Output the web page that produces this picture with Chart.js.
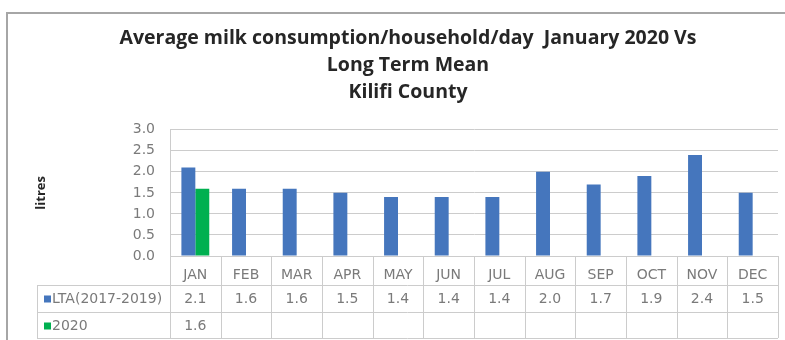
<!DOCTYPE html>
<html>
<head>
<meta charset="utf-8">
<title>Milk consumption - Kilifi</title>
<script src="https://cdn.jsdelivr.net/npm/chart.js@4/dist/chart.umd.min.js"></script>
<style>
  html, body { margin: 0; padding: 0; background: #fff; overflow: hidden; }
  #wrap { width: 785px; height: 340px; }
</style>
</head>
<body>
<div id="wrap"><canvas id="milkChart" width="785" height="340"></canvas></div>
<script>
// monthly averages, litres per household per day
const months = ['JAN', 'FEB', 'MAR', 'APR', 'MAY', 'JUN', 'JUL', 'AUG', 'SEP', 'OCT', 'NOV', 'DEC'];
const ltaValues = [2.1, 1.6, 1.6, 1.5, 1.4, 1.4, 1.4, 2.0, 1.7, 1.9, 2.4, 1.5];
const values2020 = [1.6, null, null, null, null, null, null, null, null, null, null, null];
const seriesNames = ['LTA(2017-2019)', '2020'];
const seriesColors = ['#4576bd', '#00b050'];

const axisFont = { family: 'DejaVu Sans', size: 14 };
const axisColor = '#7a7a7a';
const lineColor = '#cccccc';

// outer frame of the chart box
const framePlugin = {
    id: 'frame',
    beforeDraw(chart) {
        const ctx = chart.ctx;
        ctx.save();
        ctx.fillStyle = '#fff';
        ctx.fillRect(0, 0, chart.width, chart.height);
        ctx.strokeStyle = '#a6a6a6';
        ctx.lineWidth = 2;
        ctx.beginPath();
        ctx.moveTo(7, chart.height);
        ctx.lineTo(7, 13);
        ctx.lineTo(chart.width, 13);
        ctx.stroke();
        ctx.restore();
    }
};

// data table under the x axis, one row per series
const dataTablePlugin = {
    id: 'dataTable',
    afterDraw(chart) {
        const ctx = chart.ctx;
        const x = chart.scales.x;
        const area = chart.chartArea;
        const step = x.getPixelForValue(1) - x.getPixelForValue(0);
        const headLeft = 37;
        const rowH = 27;
        const top = area.bottom;
        const r1 = x.bottom;
        const bottom = r1 + rowH * 2 - 1;

        ctx.save();
        ctx.strokeStyle = lineColor;
        ctx.lineWidth = 1;
        ctx.beginPath();
        for (let i = 0; i <= months.length; i++) {
            const px = Math.round(x.getPixelForValue(i) - step / 2) + 0.5;
            ctx.moveTo(px, top);
            ctx.lineTo(px, bottom);
        }
        [r1, r1 + rowH, bottom].forEach(y => {
            ctx.moveTo(headLeft, Math.round(y) + 0.5);
            ctx.lineTo(area.right, Math.round(y) + 0.5);
        });
        ctx.moveTo(headLeft + 0.5, r1);
        ctx.lineTo(headLeft + 0.5, bottom);
        ctx.stroke();

        ctx.font = axisFont.size + 'px ' + axisFont.family;
        ctx.textBaseline = 'middle';
        chart.data.datasets.forEach((ds, row) => {
            const cy = r1 + rowH * row + rowH / 2 + 1;
            ctx.fillStyle = ds.backgroundColor;
            ctx.fillRect(headLeft + 7, cy - 4, 7, 7);
            ctx.fillStyle = axisColor;
            ctx.textAlign = 'left';
            ctx.fillText(ds.label, headLeft + 15, cy);
            ctx.textAlign = 'center';
            ds.data.forEach((v, i) => {
                if (v === null) return;
                ctx.fillText(v.toFixed(1), x.getPixelForValue(i), cy);
            });
        });
        ctx.restore();
    }
};

const ctx = document.getElementById('milkChart').getContext('2d');
new Chart(ctx, {
    type: 'bar',
    data: {
        labels: months,
        datasets: [
            { label: seriesNames[0], data: ltaValues, backgroundColor: seriesColors[0] },
            { label: seriesNames[1], data: values2020, backgroundColor: seriesColors[1] }
        ]
    },
    options: {
        responsive: false,
        animation: false,
        devicePixelRatio: 1,
        categoryPercentage: 0.55,
        barPercentage: 1.0,
        layout: { padding: { left: 38, right: 7, top: 13, bottom: 55 } },
        plugins: {
            legend: { display: false },
            tooltip: { enabled: false },
            title: {
                display: true,
                text: ['Average milk consumption/household/day  January 2020 Vs', 'Long Term Mean', 'Kilifi County'],
                color: '#262626',
                font: { family: 'Open Sans', size: 19.5, weight: 'bold', lineHeight: 1.38 },
                padding: { top: 12, bottom: 24 }
            }
        },
        scales: {
            x: {
                grid: { display: false },
                border: { display: false },
                ticks: { color: axisColor, font: axisFont, padding: 3 },
                afterFit(scale) { scale.height = 29; }
            },
            y: {
                min: 0,
                max: 3,
                ticks: {
                    stepSize: 0.5,
                    color: axisColor,
                    font: axisFont,
                    padding: 15,
                    callback: v => v.toFixed(1)
                },
                grid: { color: lineColor, drawTicks: false },
                border: { color: lineColor },
                title: {
                    display: true,
                    text: 'litres',
                    color: '#262626',
                    font: { family: 'Open Sans', size: 13, weight: 'bold' },
                    padding: { top: -5, bottom: 0 }
                },
                afterFit(scale) { scale.width = 132; }
            }
        }
    },
    plugins: [framePlugin, dataTablePlugin]
});
</script>
</body>
</html>
